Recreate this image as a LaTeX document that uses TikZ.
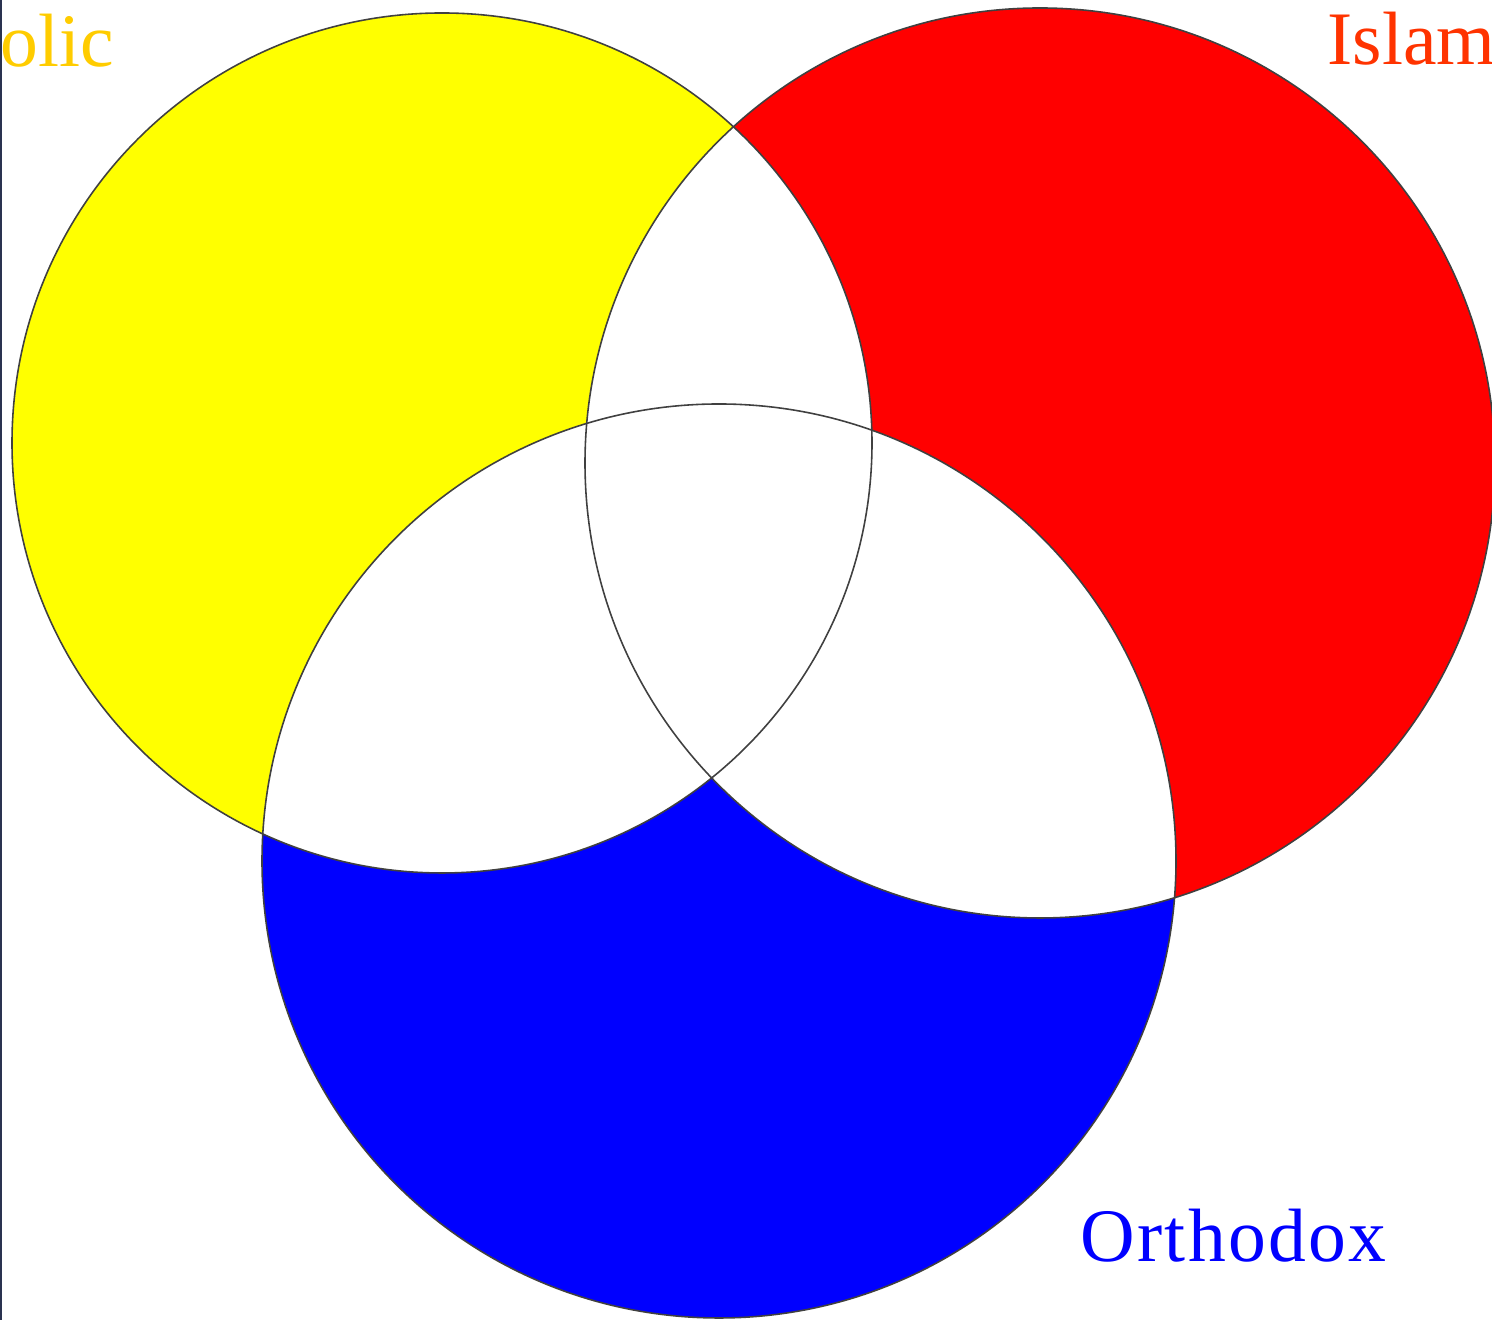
\documentclass[tikz,border=0pt]{standalone}
\usepackage{fontspec}
\setmainfont{Liberation Serif}
\usepackage{xcolor}
\usetikzlibrary{positioning}
\definecolor{cathyellow}{RGB}{255,255,0}
\definecolor{islamfill}{RGB}{255,0,0}
\definecolor{orthofill}{RGB}{0,0,255}
\definecolor{cathgold}{HTML}{FFCC00}
\definecolor{islamred}{HTML}{FF3300}
\definecolor{orthoblue}{HTML}{0000FF}
\definecolor{edgenavy}{HTML}{2A3350}

\begin{document}
\begin{tikzpicture}[
		rim/.style={draw=black!75,line width=0.45pt},
		label/.style={inner sep=0pt,font=\fontsize{21.5}{24}\selectfont}
	]
		
		\useasboundingbox (0,0) rectangle (14.92,13.2);
		
		\coordinate (cath) at (4.42,8.77);
		\coordinate (islam) at (10.40,8.57);
		\coordinate (ortho) at (7.19,4.59);
		
		\fill[cathyellow]
		(cath) circle (4.30);
		
		\fill[islamfill]
		(islam) circle (4.55);
		
		\fill[orthofill]
		(ortho) circle (4.57);
		
		% overlaps stay white
		\begin{scope}
			\clip (cath) circle (4.30);
			\fill[white] (islam) circle (4.55);
			\fill[white] (ortho) circle (4.57);
		\end{scope}
		\begin{scope}
			\clip (islam) circle (4.55);
			\fill[white] (ortho) circle (4.57);
		\end{scope}
		
		\draw[rim] (cath) circle (4.30);
		\draw[rim] (islam) circle (4.55);
		\draw[rim] (ortho) circle (4.57);
		
		\draw[edgenavy,line width=0.6pt]
		(0.01,0) -- (0.01,13.2);
		
		\node[label,cathgold,anchor=base west] (tcath)
		at (0,12.53) {olic};
		
		\node[label,islamred,anchor=base west] (tislam)
		at (13.27,12.55) {Islam};
		
		\node[label,orthoblue,anchor=base west] (tortho)
		at (10.80,0.58) {\addfontfeatures{LetterSpace=3}Orthodox};
		
	\end{tikzpicture}
\end{document}
